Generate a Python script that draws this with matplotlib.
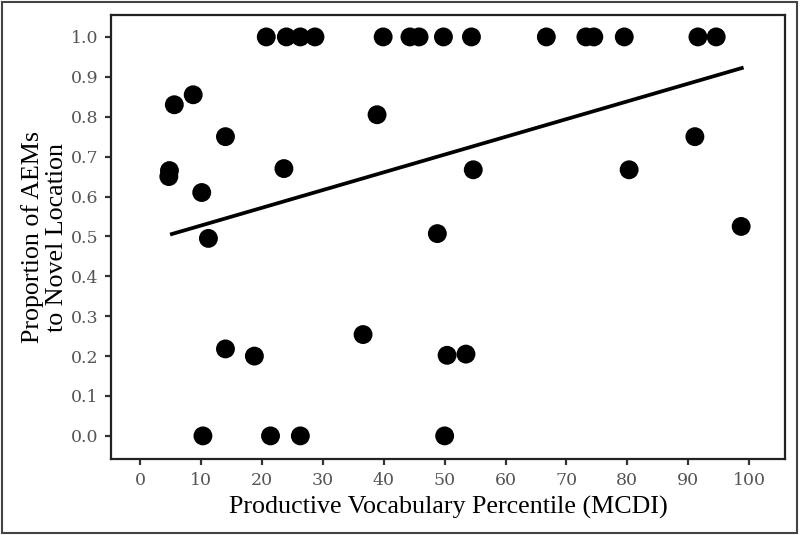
import numpy as np
import matplotlib.pyplot as plt
from matplotlib.patches import Rectangle

# vocabulary percentile (MCDI) and proportion of AEMs to novel location
vocab = [20.7, 24.0, 26.3, 28.7, 39.9, 44.3, 45.8, 49.8, 54.4, 66.7, 73.2, 74.5, 79.5, 91.6, 94.6,
         5.6, 8.7, 14.0, 4.8, 4.7, 10.1, 23.6, 38.9,
         11.2, 48.8, 54.7, 80.3, 91.1, 98.7,
         14.0, 18.75, 36.6, 50.4, 53.5,
         10.3, 21.4, 26.3, 50.0]
prop = [1.0] * 15 + \
       [0.83, 0.855, 0.75, 0.665, 0.65, 0.61, 0.67, 0.805,
        0.495, 0.507, 0.667, 0.667, 0.75, 0.525,
        0.218, 0.20, 0.254, 0.202, 0.205,
        0.0, 0.0, 0.0, 0.0]

# regression line ends
fit_x = [5.2, 98.8]
fit_y = [0.506, 0.922]

x = np.array(vocab)
y = np.array(prop)

plt.rcParams['font.family'] = ['Liberation Serif', 'DejaVu Serif']

fig = plt.figure(figsize=(8, 5.35), dpi=100)
ax = fig.add_axes([0.13875, 0.142, 0.8425, 0.83])

ax.scatter(x, y, s=185, c='black', edgecolors='none', zorder=3)
ax.plot(fit_x, fit_y, color='black', lw=2.7, zorder=2)

ax.set_xlim(-4.8, 105.9)
ax.set_ylim(-0.058, 1.055)
ax.set_xticks(np.arange(0, 101, 10))
ax.set_yticks(np.arange(0, 1.01, 0.1))
ax.set_yticklabels(['%.1f' % v for v in np.arange(0, 1.01, 0.1)])

ax.tick_params(axis='both', length=4, width=1.6, color='#333333',
               labelsize=12.5, labelcolor='#555555', pad=5)
for lab in ax.get_xticklabels() + ax.get_yticklabels():
    lab.set_family('DejaVu Serif')
for sp in ax.spines.values():
    sp.set_linewidth(1.6)
    sp.set_color('#222222')

ax.set_xlabel('Productive Vocabulary Percentile (MCDI)', fontsize=18.7, labelpad=5)
ax.set_ylabel('Proportion of AEMs\nto Novel Location', fontsize=18.7, labelpad=2,
              linespacing=1.15)

# outer frame round the whole image
fig.patches.append(Rectangle((0.002, 0.003), 0.994, 0.994, transform=fig.transFigure,
                             fill=False, edgecolor='#444444', lw=1.5))

fig.savefig('out.png', dpi=100)
